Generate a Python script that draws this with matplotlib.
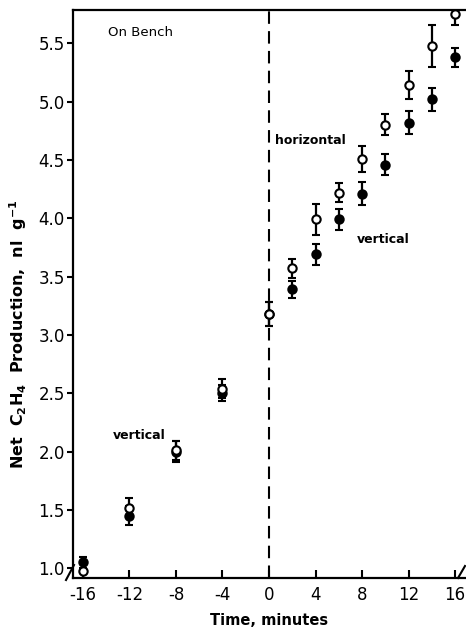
import matplotlib
matplotlib.use("Agg")
import matplotlib.pyplot as plt
from matplotlib.lines import Line2D

# ---- data ----
time_min = [-16, -12, -8, -4, 0, 2, 4, 6, 8, 10, 12, 14, 16]
horizontal = [0.98, 1.52, 2.01, 2.54, 3.18, 3.57, 3.99, 4.22, 4.51, 4.80, 5.14, 5.48, 5.75]
horizontal_err = [0.07, 0.08, 0.08, 0.08, 0.10, 0.08, 0.13, 0.08, 0.11, 0.09, 0.12, 0.18, 0.09]
vertical = [1.05, 1.45, 2.00, 2.50, 3.18, 3.39, 3.69, 3.99, 4.21, 4.46, 4.82, 5.02, 5.38]
vertical_err = [0.05, 0.08, 0.09, 0.07, 0.10, 0.07, 0.09, 0.09, 0.10, 0.09, 0.10, 0.10, 0.08]
x_ticks = [-16, -12, -8, -4, 0, 4, 8, 12, 16]
x_tick_labels = ["-16", "-12", "-8", "-4", "0", "4", "8", "12", "16"]
y_ticks = [1.0, 1.5, 2.0, 2.5, 3.0, 3.5, 4.0, 4.5, 5.0, 5.5]
y_tick_labels = ["1.0", "1.5", "2.0", "2.5", "3.0", "3.5", "4.0", "4.5", "5.0", "5.5"]

plt.rcParams['font.family'] = ['DejaVu Sans']

W, H = 466, 631
fig = plt.figure(figsize=(W / 100, H / 100), dpi=100)
ax = fig.add_axes([73 / W, (H - 578) / H, (465 - 73) / W, (578 - 10) / H])

ax.set_xlim(-16.86, 16.86)
ax.set_ylim(0.917, 5.785)

ax.axvline(0, color='black', lw=1.5, ls=(0, (6, 3.5)), zorder=1)

common = dict(fmt='o', ecolor='black', elinewidth=1.6, capsize=3.2, capthick=1.6,
              markersize=6, mew=1.5, mec='black', zorder=3)
ax.errorbar(time_min, vertical, yerr=vertical_err, mfc='black', **common)
ax.errorbar(time_min, horizontal, yerr=horizontal_err, mfc='white', **common)

ax.set_xticks(x_ticks)
ax.set_xticklabels(x_tick_labels, fontsize=12)
ax.set_yticks(y_ticks)
ax.set_yticklabels(y_tick_labels, fontsize=12)
ax.tick_params(axis='x', direction='in', length=6, width=1.5, pad=6)
ax.tick_params(axis='y', direction='out', length=4, width=1.5, pad=2)

for s in ['left', 'bottom', 'top']:
    ax.spines[s].set_linewidth(1.6)
ax.spines['right'].set_visible(False)

ax.set_xlabel('Time, minutes', fontsize=10.5, fontweight='bold', labelpad=6)
fig.text(18 / W, 1 - 334 / H, r'Net  C$_\mathbf{2}$H$_\mathbf{4}$  Production,  nl  g$^\mathbf{-1}$',
         rotation=90, fontsize=11.5, fontweight='bold', ha='center', va='center')

ax.text(-13.85, 5.59, 'On Bench', fontsize=9.5, ha='left', va='center')
ax.text(0.5, 4.67, 'horizontal', fontsize=9, fontweight='bold', ha='left', va='center')
ax.text(7.56, 3.82, 'vertical', fontsize=9, fontweight='bold', ha='left', va='center')
ax.text(-13.42, 2.14, 'vertical', fontsize=9, fontweight='bold', ha='left', va='center')

# axis break marks
fig.add_artist(Line2D([66 / W, 74 / W], [1 - 580 / H, 1 - 565 / H], color='black', lw=1.5))
fig.add_artist(Line2D([458 / W, 465 / W], [1 - 578 / H, 1 - 566 / H], color='black', lw=1.5))

fig.savefig('out.png', dpi=100)
